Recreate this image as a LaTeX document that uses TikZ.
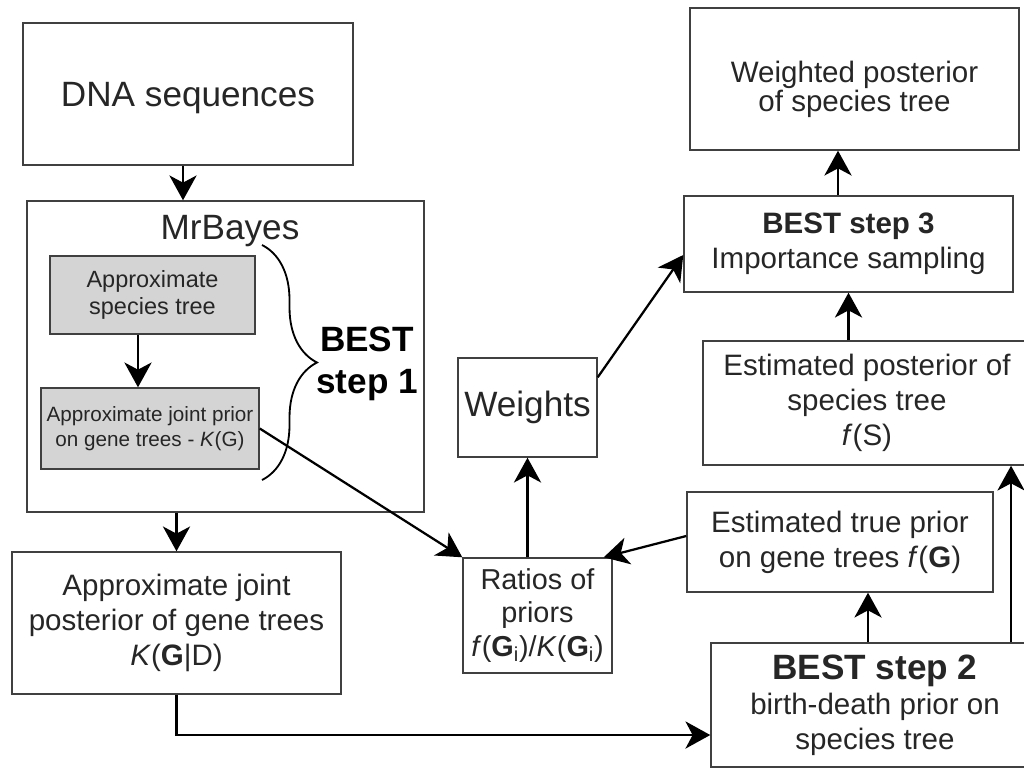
\documentclass[tikz,border=0pt]{standalone}
\usepackage{fontspec}
\setmainfont{Liberation Sans}
\usetikzlibrary{arrows.meta,positioning,decorations.pathreplacing}

\tikzset{
  box/.style={draw=black!75, line width=1pt, align=center, inner sep=0pt, text=black!85, font=\fontsize{21}{25}\selectfont},
  graybox/.style={box, fill=black!17, font=\fontsize{14.7}{17.5}\selectfont},
  link/.style={->, line width=1.6pt},
}

\begin{document}
\begin{tikzpicture}[x=0.025cm, y=-0.025cm, >={Stealth[length=6.2mm,width=6.8mm,inset=1.8mm]}]
\useasboundingbox (0,0) rectangle (1024,769);

% left column
\node[box, minimum width=8.25cm, minimum height=3.55cm, font=\fontsize{25}{30}\selectfont] (dna) at (188,94) {\rule{0pt}{23pt}DNA sequences};
\node[box, minimum width=9.925cm, minimum height=7.775cm] (mrbayes) at (225.5,356.5) {};
\node[font=\fontsize{25}{30}\selectfont, text=black!85] (mrlabel) at (230,231) {MrBayes};
\node[graybox, minimum width=5.125cm, minimum height=1.95cm, font=\fontsize{16.7}{19.5}\selectfont] (approxtree) at (152.5,295) {Approximate\\species tree};
\node[graybox, minimum width=5.45cm, minimum height=2.025cm] (approxprior) at (150,428.5) {Approximate joint prior\\on gene trees - \textit{K}(G)};
\node[font=\bfseries\fontsize{25}{30}\selectfont, align=center] (step1) at (367,364) {BEST\\step 1};
\node[box, minimum width=8.225cm, minimum height=3.55cm] (approxpost) at (176.5,623) {Approximate joint\\posterior of gene trees\\\textit{K}(\textbf{G}|D)};

% middle
\node[box, minimum width=3.725cm, minimum height=2.875cm, font=\fontsize{20.5}{24}\selectfont] (ratios) at (537.5,615.5) {Ratios of\\priors\\\textit{f}(\textbf{G}\textsubscript{i})/\textit{K}(\textbf{G}\textsubscript{i})};
\node[box, minimum width=3.475cm, minimum height=2.475cm, font=\fontsize{25}{30}\selectfont] (weights) at (527.5,407.5) {Weights};

% right column
\node[box, minimum width=8.225cm, minimum height=3.55cm] (weighted) at (854.5,79) {\rule{0pt}{30pt}Weighted posterior\\[-5pt]of species tree};
\node[box, minimum width=8.225cm, minimum height=2.4cm] (step3) at (848.5,244) {\textbf{BEST step 3}\\Importance sampling};
\node[box, minimum width=8.2cm, minimum height=3.1cm] (estpost) at (867,403) {Estimated posterior of\\species tree\\\textit{f}(S)};
\node[box, minimum width=7.65cm, minimum height=2.5cm] (esttrue) at (840,542) {Estimated true prior\\on gene trees \textit{f}(\textbf{G})};
\node[box, minimum width=8.2cm, minimum height=3.1cm] (step2) at (875,705) {{\bfseries\fontsize{25}{30}\selectfont BEST step 2}\\birth-death prior on\\species tree};

% brace
\draw[line width=1.3pt, decorate, decoration={brace, amplitude=1.375cm}] (262,245) -- (262,480);

% arrows
\path[link] ([xshift=-0.125cm]dna.south) edge ([xshift=-0.125cm]dna.south |- mrbayes.north);
\path[link] ([xshift=-0.3625cm]approxtree.south) edge ([xshift=-0.3625cm]approxtree.south |- approxprior.north);
\path[link] (mrbayes.south -| approxpost.north) edge (approxpost.north);
\draw[link] (approxpost.south) |- ([yshift=-0.75cm]step2.west);
\path[link] (approxprior.east) edge (ratios.north west);
\path[link] (ratios.north -| weights.south) edge (weights.south);
\path[link] ([yshift=-0.5cm]weights.north east) edge ([yshift=-0.275cm]step3.west);
\path[link] ([xshift=-0.2625cm]step3.north) edge ([xshift=-0.2625cm]step3.north |- weighted.south);
\path[link] (estpost.north -| step3.south) edge (step3.south);
\path[link] ([yshift=0.15cm]esttrue.west) edge ([xshift=-0.225cm]ratios.north east);
\path[link] ([xshift=-0.175cm]step2.north) edge ([xshift=-0.175cm]step2.north |- esttrue.south);
\path[link] ([xshift=3.4cm]step2.north) edge ([xshift=3.4cm]step2.north |- estpost.south);
\end{tikzpicture}
\end{document}
